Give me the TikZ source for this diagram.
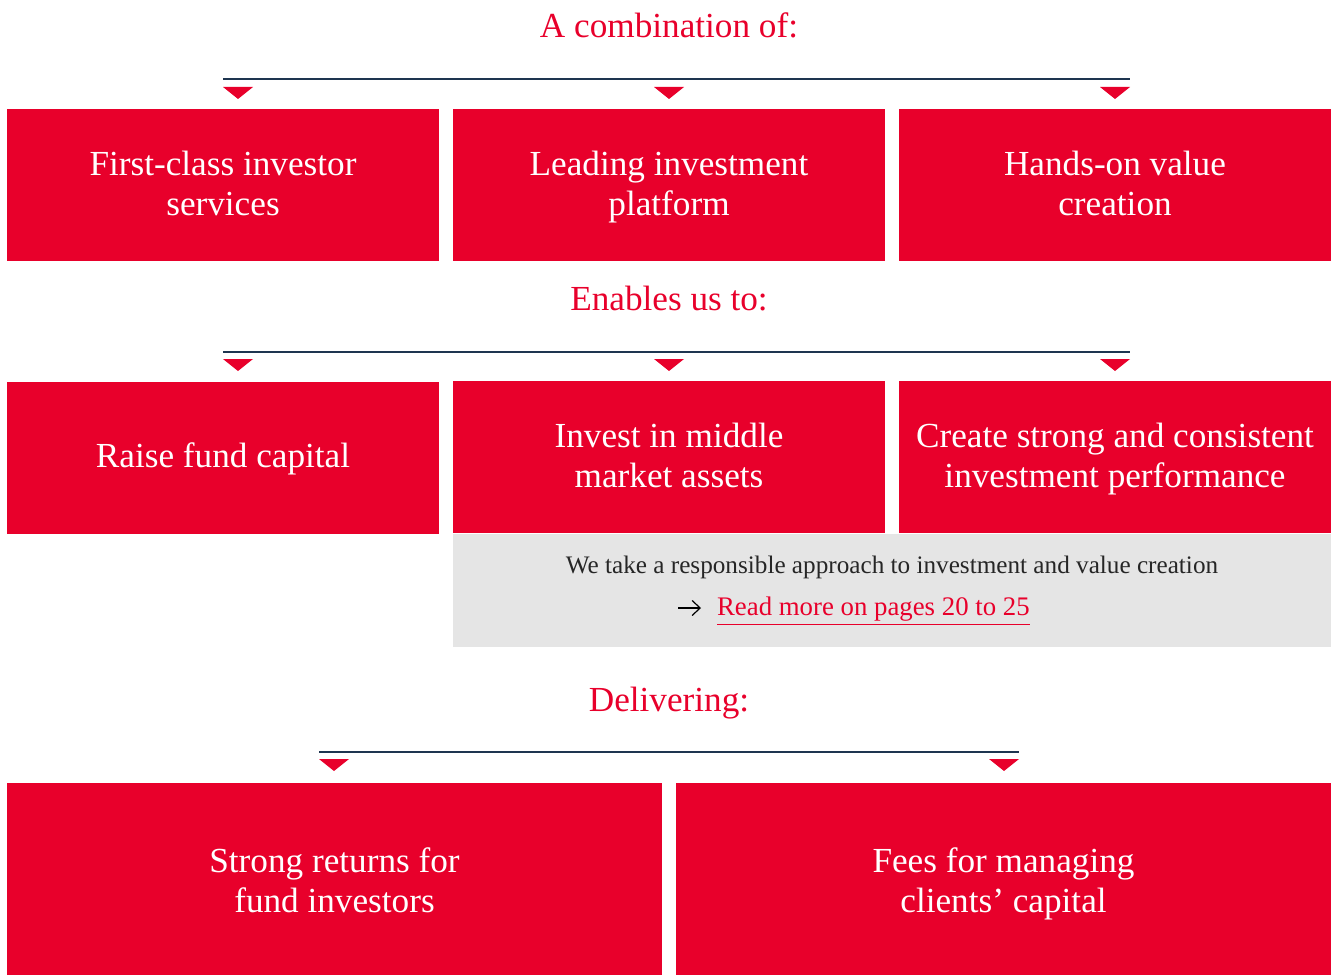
\documentclass[tikz,border=0pt]{standalone}
\usepackage{fontspec}
\setmainfont{Liberation Serif}
\usepackage{tikz}
\usetikzlibrary{arrows.meta}

\definecolor{brandred}{HTML}{E8002B}
\definecolor{panelgrey}{HTML}{E5E5E5}
\definecolor{rulenavy}{HTML}{1E3550}

\tikzset{
  redbox/.style={fill=brandred, text=white, inner sep=0pt, align=center,
    minimum width=216pt, minimum height=76pt,
    font=\fontsize{17.6}{20}\selectfont,
    text height=35pt, text depth=5pt},
  widebox/.style={redbox, minimum width=327.5pt, minimum height=99pt},
  heading/.style={text=brandred, font=\fontsize{17.6}{20}\selectfont},
  pointer/.style={fill=brandred},
  rule/.style={draw=rulenavy, line width=0.65pt}
}

\begin{document}
\begin{tikzpicture}[x=0.5pt,y=-0.5pt]
      \useasboundingbox (0,0) rectangle (1336,974);
      \node[heading] (combo) at (669,25) {A combination of:};
      \coordinate (comboL) at (223,79);
      \coordinate (comboR) at (1130,79);
      \draw[rule] (comboL) -- (comboR);
      \foreach \x in {238,669,1115}
        \fill[pointer] (\x-15,87) -- (\x+15,87) -- (\x,99) -- cycle;
      \node[redbox] (services) at (223,185) {First-class investor\\services};
      \node[redbox] (platform) at (669,185) {Leading investment\\platform};
      \node[redbox] (value) at (1115,185) {Hands-on value\\creation};

      \node[heading] (enables) at (669,299) {Enables us to:};
      \coordinate (enablesL) at (223,352);
      \coordinate (enablesR) at (1130,352);
      \draw[rule] (enablesL) -- (enablesR);
      \foreach \x in {238,669,1115}
        \fill[pointer] (\x-15,359) -- (\x+15,359) -- (\x,371) -- cycle;
      \node[fill=panelgrey, minimum width=439pt, minimum height=56.5pt, inner sep=0pt] (panel) at (892,590.5) {};
      \node[redbox, text height=15pt, text depth=6pt] (raise) at (223,458) {Raise fund capital};
      \node[redbox] (invest) at (669,457) {Invest in middle\\market assets};
      \node[redbox] (perform) at (1115,457) {Create strong and consistent\\investment performance};
      \node[font=\fontsize{12.6}{15}\selectfont, text=black!85] (approach) at (892,567) {We take a responsible approach to investment and value creation};
      \node[font=\fontsize{13.4}{16}\selectfont, text=brandred, anchor=west] (readmore) at (710,611) {\underline{Read more on pages 20 to 25}};
      \coordinate (arrowtail) at (678,608);
      \draw[-{Straight Barb[length=4pt,width=7.5pt]}, line width=0.6pt] (arrowtail) -- (701,608);

      \node[heading] (delivering) at (669,703) {Delivering:};
      \coordinate (deliverL) at (319,752);
      \coordinate (deliverR) at (1019,752);
      \draw[rule] (deliverL) -- (deliverR);
      \foreach \x in {334,1004}
        \fill[pointer] (\x-15,759) -- (\x+15,759) -- (\x,771) -- cycle;
      \node[widebox] (returns) at (334.5,882) {Strong returns for\\fund investors};
      \node[widebox] (fees) at (1003.5,882) {Fees for managing\\clients' capital};
    \end{tikzpicture}
\end{document}
